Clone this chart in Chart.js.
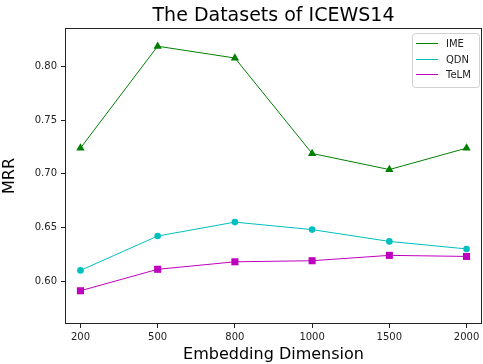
<!DOCTYPE html>
<html>
<head>
<meta charset="utf-8">
<script src="https://cdn.jsdelivr.net/npm/chart.js@4.4.0/dist/chart.umd.min.js"></script>
<style>
html,body{margin:0;padding:0;background:#fff;}
canvas{display:block;}
</style>
</head>
<body>
<canvas id="c" width="483" height="364"></canvas>
<script>
const categories = ["200", "500", "800", "1000", "1500", "2000"];
const imeValues  = [0.724, 0.819, 0.808, 0.719, 0.704, 0.724];
const qdnValues  = [0.610, 0.642, 0.655, 0.648, 0.637, 0.630];
const telmValues = [0.591, 0.611, 0.618, 0.619, 0.624, 0.623];
const yTicks = [0.60, 0.65, 0.70, 0.75, 0.80];
const seriesNames = ["IME", "QDN", "TeLM"];
const seriesColors = ["#008000", "#00bfbf", "#bf00bf"];

const FONT = "'DejaVu Sans', 'Liberation Sans', sans-serif";
const toPts = arr => arr.map((v, i) => ({x: i, y: v}));

const frame = {
  id: 'frame',
  afterDatasetsDraw(chart) {
    const {ctx, chartArea: a} = chart;
    ctx.save();
    ctx.strokeStyle = '#222';
    ctx.lineWidth = 1;
    ctx.strokeRect(Math.round(a.left) + 0.5, Math.round(a.top) + 0.5,
                   Math.round(a.right - a.left) - 1, Math.round(a.bottom - a.top) - 1);
    ctx.restore();
  },
  afterDraw(chart) {
    const {ctx, chartArea: a} = chart;
    const bx = Math.round(a.right) - 70, by = Math.round(a.top) + 5, bw = 67, bh = 54;
    ctx.save();
    ctx.fillStyle = 'rgba(255,255,255,0.8)';
    ctx.strokeStyle = '#d0d0d0';
    ctx.lineWidth = 1;
    ctx.beginPath();
    if (ctx.roundRect) ctx.roundRect(bx + 0.5, by + 0.5, bw, bh, 3); else ctx.rect(bx + 0.5, by + 0.5, bw, bh);
    ctx.fill(); ctx.stroke();
    ctx.font = '10px ' + FONT;
    ctx.textBaseline = 'middle';
    seriesNames.forEach((name, i) => {
      const y = Math.round(by + 10 + i * 15.5);
      ctx.beginPath();
      ctx.strokeStyle = seriesColors[i];
      ctx.lineWidth = 1;
      ctx.moveTo(bx + 4, y + 0.5);
      ctx.lineTo(bx + 26, y + 0.5);
      ctx.stroke();
      ctx.fillStyle = '#222';
      ctx.fillText(name, bx + 34, y + 1);
    });
    ctx.restore();
  }
};

new Chart(document.getElementById('c'), {
  type: 'line',
  data: {
    datasets: [
      {label: seriesNames[0], data: toPts(imeValues), borderColor: seriesColors[0], backgroundColor: seriesColors[0],
       borderWidth: 1, pointStyle: 'triangle', pointRadius: 4.8, pointBorderWidth: 0},
      {label: seriesNames[1], data: toPts(qdnValues), borderColor: seriesColors[1], backgroundColor: seriesColors[1],
       borderWidth: 1, pointStyle: 'circle', pointRadius: 3.3, pointBorderWidth: 0},
      {label: seriesNames[2], data: toPts(telmValues), borderColor: seriesColors[2], backgroundColor: seriesColors[2],
       borderWidth: 1, pointStyle: 'rect', pointRadius: 5, pointBorderWidth: 0}
    ]
  },
  options: {
    responsive: false,
    animation: false,
    devicePixelRatio: 1,
    layout: {autoPadding: false, padding: {left: 0, right: 1, top: 0, bottom: 0}},
    plugins: {
      legend: {display: false},
      tooltip: {enabled: false},
      title: {
        display: true, text: 'The Datasets of ICEWS14', fullSize: false,
        color: '#000', font: {family: FONT, size: 19, weight: 'normal'},
        padding: {top: 5, bottom: 0.2}
      }
    },
    scales: {
      x: {
        type: 'linear', min: -0.2, max: 5.2,
        afterBuildTicks: s => { s.ticks = categories.map((c, i) => ({value: i})); },
        afterFit: s => { s.height = 40; s.paddingLeft = 0; s.paddingRight = 0; },
        ticks: {callback: v => categories[v], color: '#222', font: {family: FONT, size: 10}, padding: 3, maxRotation: 0},
        grid: {drawOnChartArea: false, drawTicks: true, tickLength: 4, color: '#222'},
        border: {display: false},
        title: {display: true, text: 'Embedding Dimension', color: '#000',
                font: {family: FONT, size: 16}, padding: {top: 0, bottom: 0}}
      },
      y: {
        min: 0.56, max: 0.836,
        afterBuildTicks: s => { s.ticks = yTicks.map(v => ({value: v})); },
        afterFit: s => { s.width = 65; s.paddingTop = 0; s.paddingBottom = 0; },
        ticks: {callback: v => v.toFixed(2), color: '#222', font: {family: FONT, size: 10}, padding: 4},
        grid: {drawOnChartArea: false, drawTicks: true, tickLength: 4, color: '#222'},
        border: {display: false},
        title: {display: true, text: 'MRR', color: '#000',
                font: {family: FONT, size: 16}, padding: {top: 0, bottom: 0}}
      }
    }
  },
  plugins: [frame]
});
</script>
</body>
</html>
